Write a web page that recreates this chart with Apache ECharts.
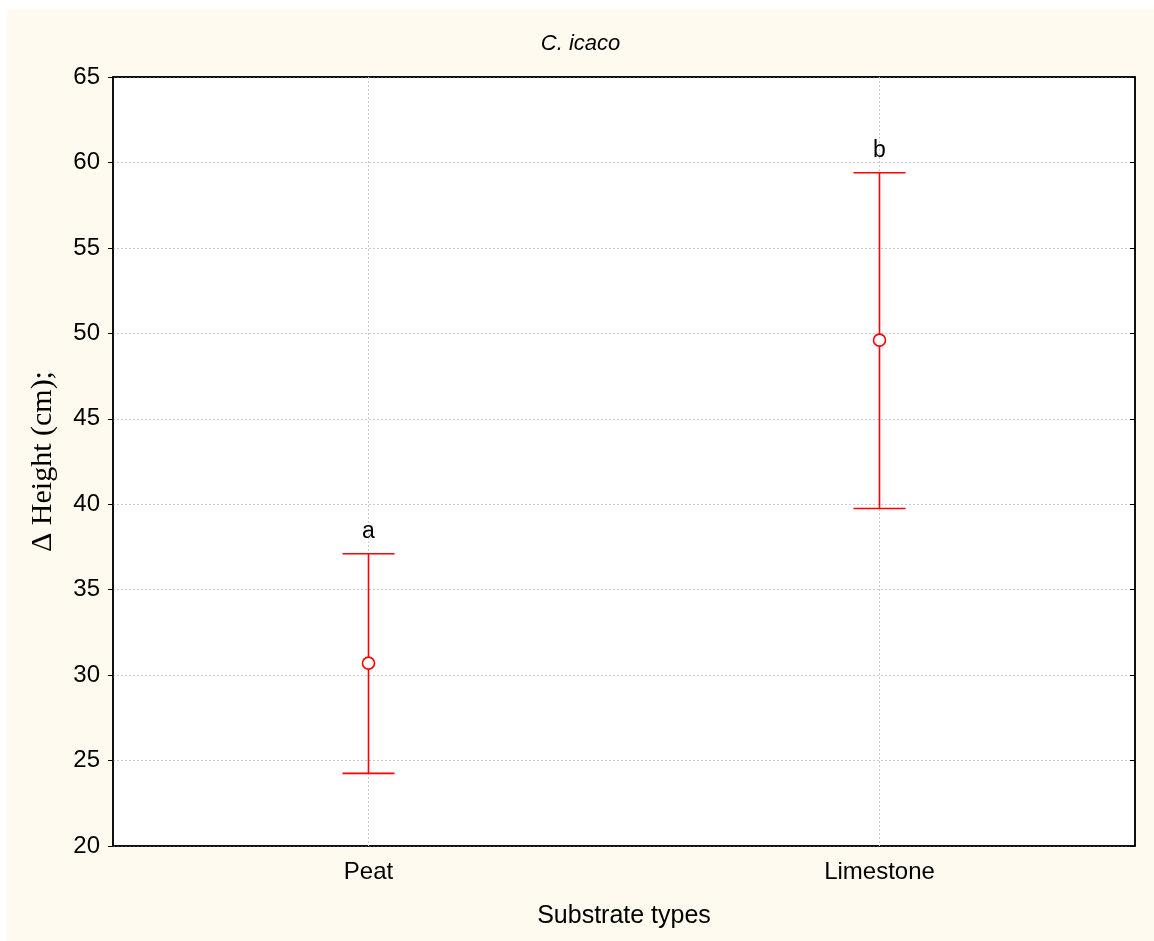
<!DOCTYPE html>
<html><head><meta charset="utf-8">
<script src="https://cdn.jsdelivr.net/npm/echarts@6/dist/echarts.min.js"></script>
<style>
html,body{margin:0;padding:0;background:#fff;}
#wrap{position:absolute;left:7px;top:9px;width:1147px;height:932px;background:#FEFAEF;}
#chart{width:1147px;height:932px;}
</style></head>
<body><div id="wrap"><div id="chart"></div></div>
<script>
const categories = ['Peat', 'Limestone'];
const means = [30.7, 49.6];
const lowers = [24.25, 39.75];
const uppers = [37.1, 59.4];
const groupLetters = ['a', 'b'];
const yTicks = {min: 20, max: 65, interval: 5};

const chart = echarts.init(document.getElementById('chart'));
const sans = 'Liberation Sans, Arial, sans-serif';
const errData = categories.map((c, i) => [i, lowers[i], uppers[i], means[i], groupLetters[i]]);

chart.setOption({
  animation: false,
  backgroundColor: 'transparent',
  title: {
    text: 'C. icaco', left: 'center', top: 19,
    textStyle: {fontFamily: sans, fontStyle: 'italic', fontWeight: 'normal', fontSize: 22, color: '#000'}
  },
  grid: {left: 106, top: 68, right: 19, bottom: 95, show: true, backgroundColor: '#fff', borderColor: '#000', borderWidth: 1.5},
  xAxis: [{
    type: 'category', data: categories, position: 'bottom',
    axisLine: {lineStyle: {color: '#000', width: 1.5}},
    axisTick: {inside: true, alignWithLabel: true, length: 6, lineStyle: {color: '#000'}},
    axisLabel: {fontFamily: sans, fontSize: 24, color: '#000', margin: 14},
    splitLine: {show: false},
    name: 'Substrate types', nameLocation: 'middle', nameGap: 58,
    nameTextStyle: {fontFamily: sans, fontSize: 25, color: '#000'}
  }, {
    type: 'category', data: categories, position: 'top',
    axisLine: {lineStyle: {color: '#000', width: 1.5}},
    axisTick: {inside: true, alignWithLabel: true, length: 6, lineStyle: {color: '#000'}},
    axisLabel: {show: false}, splitLine: {show: false}
  }],
  yAxis: [{
    type: 'value', min: yTicks.min, max: yTicks.max, interval: yTicks.interval, position: 'left',
    axisLine: {show: true, lineStyle: {color: '#000', width: 1.5}},
    axisTick: {show: true, inside: false, length: 5, lineStyle: {color: '#000'}},
    axisLabel: {fontFamily: sans, fontSize: 24, color: '#000', margin: 13},
    splitLine: {show: true, lineStyle: {color: '#cccccc', type: [2, 2], width: 1}},
    name: 'Δ Height (cm);', nameLocation: 'middle', nameGap: 55,
    nameTextStyle: {fontFamily: 'Liberation Serif, Times New Roman, serif', fontSize: 30, color: '#000'}
  }, {
    type: 'value', min: yTicks.min, max: yTicks.max, interval: yTicks.interval, position: 'right',
    axisLine: {show: true, lineStyle: {color: '#000', width: 1.5}},
    axisTick: {show: true, inside: true, length: 5, lineStyle: {color: '#000'}},
    axisLabel: {show: false}, splitLine: {show: false}
  }],
  series: [{
    type: 'custom',
    data: errData,
    encode: {x: 0, y: [1, 2]},
    renderItem: function (params, api) {
      const x = api.value(0);
      const lo = api.coord([x, api.value(1)]);
      const hi = api.coord([x, api.value(2)]);
      const mid = api.coord([x, api.value(3)]);
      const cs = params.coordSys;
      const half = 26;
      const r = 6;
      const red = {stroke: '#ff0000', lineWidth: 1.6, fill: null};
      return {
        type: 'group',
        children: [
          {type: 'line', shape: {x1: lo[0], y1: cs.y, x2: lo[0], y2: cs.y + cs.height},
           style: {stroke: '#cccccc', lineWidth: 1, lineDash: [2, 2]}, z2: 0},
          {type: 'line', shape: {x1: hi[0], y1: hi[1], x2: mid[0], y2: mid[1] - r}, style: red, z2: 5},
          {type: 'line', shape: {x1: mid[0], y1: mid[1] + r, x2: lo[0], y2: lo[1]}, style: red, z2: 5},
          {type: 'line', shape: {x1: hi[0] - half, y1: hi[1], x2: hi[0] + half, y2: hi[1]}, style: red, z2: 5},
          {type: 'line', shape: {x1: lo[0] - half, y1: lo[1], x2: lo[0] + half, y2: lo[1]}, style: red, z2: 5},
          {type: 'circle', shape: {cx: mid[0], cy: mid[1], r: r}, style: {stroke: '#ff0000', lineWidth: 1.6, fill: '#fff'}, z2: 6},
          {type: 'text', style: {x: hi[0], y: hi[1] - 11, text: api.value(4), textAlign: 'center', textVerticalAlign: 'bottom',
            fontFamily: sans, fontSize: 23, fill: '#000'}, z2: 6}
        ]
      };
    }
  }]
});
</script></body></html>
